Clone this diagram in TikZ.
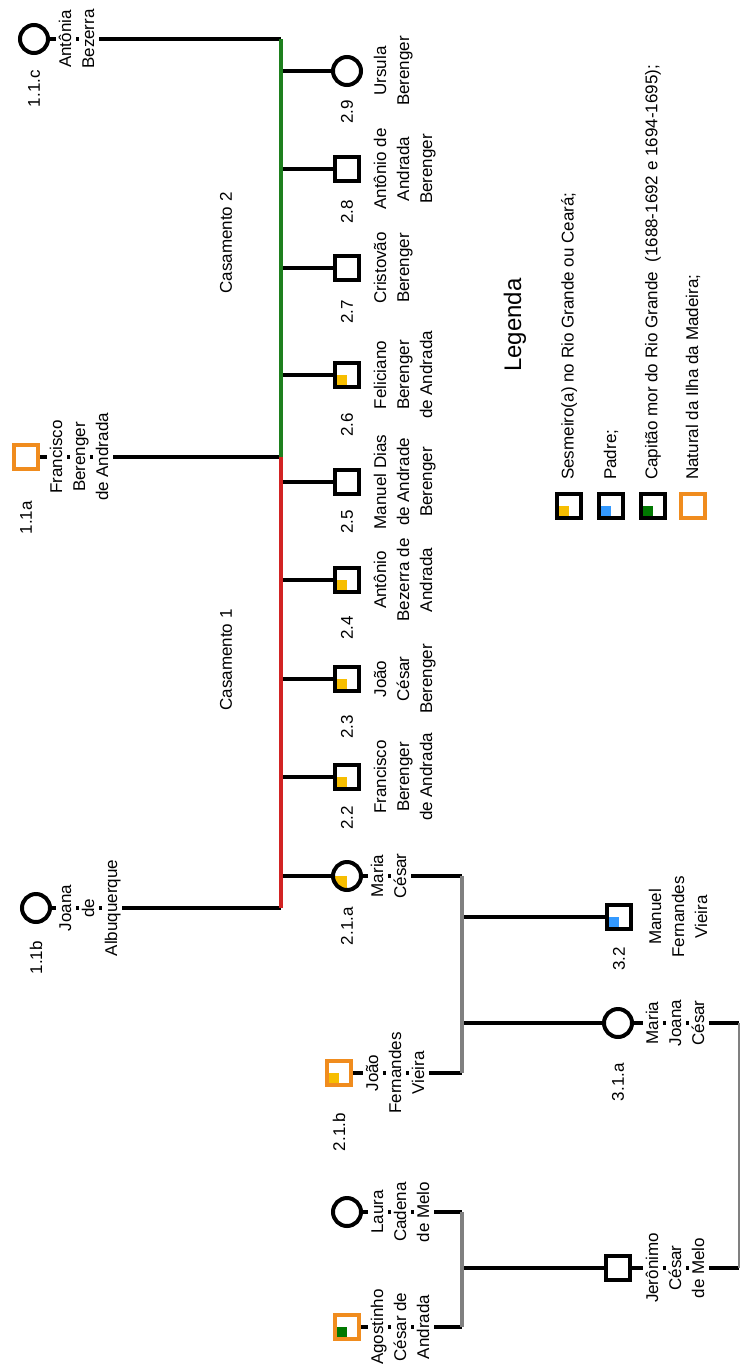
\documentclass[tikz,border=0pt]{standalone}
\usepackage{fontspec}
\setmainfont{Liberation Sans}
\usepackage{tikz}
\usetikzlibrary{positioning,backgrounds,calc}
\usepackage{xcolor}

\definecolor{verde}{RGB}{30,128,30}
\definecolor{vermelho}{RGB}{210,35,35}
\definecolor{cinza}{RGB}{128,128,128}
\definecolor{amarelo}{RGB}{247,190,0}
\definecolor{azul}{RGB}{51,153,255}
\definecolor{verdeC}{RGB}{0,120,0}
\definecolor{laranja}{RGB}{240,140,30}

\setlength{\fboxsep}{0pt}
\newcommand{\lin}[1]{\colorbox{white}{\rule[-4.5pt]{0pt}{19.5pt}#1}}
\newcommand{\fnome}{\fontsize{17}{23}\selectfont}

\tikzset{
  homem/.style={draw,line width=4pt,minimum size=24pt,inner sep=0pt,outer sep=0pt,fill=white},
  mulher/.style={draw,circle,line width=4pt,minimum size=28pt,inner sep=0pt,outer sep=0pt,fill=white},
  madeira/.style={draw=laranja},
  quarto/.style={path picture={\fill[#1] (path picture bounding box.south west) rectangle (path picture bounding box.center);}},
  sesmeiro/.style={quarto=amarelo},
  padre/.style={quarto=azul},
  capitao/.style={quarto=verdeC},
  nome/.style={rotate=90,align=center,inner sep=0pt,font=\fnome},
  ident/.style={rotate=90,inner sep=0pt,font=\fnome},
  liga/.style={line width=4.5pt},
}

\begin{document}
\begin{tikzpicture}[x=1pt,y=-1pt]
\useasboundingbox (0,0) rectangle (741,1371);

% geracao 1
\node (p11c) [mulher] at (34,39) {};
\node (p11a) [homem,madeira] at (26,457) {};
\node (p11b) [mulher] at (36,908) {};
\node (n11c) [nome,right=8pt of p11c,anchor=north] {\lin{Antônia}\\\lin{Bezerra}};
\node (n11a) [nome,right=9pt of p11a,anchor=north] {\lin{Francisco}\\\lin{Berenger}\\\lin{de Andrada}};
\node (n11b) [nome,right=6pt of p11b,anchor=north] {\lin{Joana}\\\lin{de}\\\lin{Albuquerque}};
\node (i11c) [ident,below=17pt of p11c,anchor=east] {1.1.c};
\node (i11a) [ident,below=39pt of p11a,anchor=east,xshift=7pt] {1.1a};
\node (i11b) [ident,below=16pt of p11b,anchor=east,xshift=-3pt] {1.1b};
\node (cas2) [ident] at (226,243) {Casamento 2};
\node (cas1) [ident] at (226,660) {Casamento 1};

% geracao 2
\node (p29) [mulher] at (347,71) {};
\node (p28) [homem] at (347,169) {};
\node (p27) [homem] at (347,268) {};
\node (p26) [homem,sesmeiro] at (347,375) {};
\node (p25) [homem] at (347,482) {};
\node (p24) [homem,sesmeiro] at (347,580) {};
\node (p23) [homem,sesmeiro] at (347,679) {};
\node (p22) [homem,sesmeiro] at (347,777) {};
\node (p21a) [mulher,sesmeiro] at (347,876) {};
\node (p21b) [homem,madeira,sesmeiro] at (339,1073) {};
\node (n29) [nome,right=10pt of p29,anchor=north] {\lin{Ursula}\\\lin{Berenger}};
\node (n28) [nome,right=12pt of p28,anchor=north] {\lin{Antônio de}\\\lin{Andrada}\\\lin{Berenger}};
\node (n27) [nome,right=12pt of p27,anchor=north] {\lin{Cristovão}\\\lin{Berenger}};
\node (n26) [nome,right=12pt of p26,anchor=north] {\lin{Feliciano}\\\lin{Berenger}\\\lin{de Andrada}};
\node (n25) [nome,right=12pt of p25,anchor=north] {\lin{Manuel Dias}\\\lin{de Andrade}\\\lin{Berenger}};
\node (n24) [nome,right=12pt of p24,anchor=north] {\lin{Antônio}\\\lin{Bezerra de}\\\lin{Andrada}};
\node (n23) [nome,right=12pt of p23,anchor=north] {\lin{João}\\\lin{César}\\\lin{Berenger}};
\node (n22) [nome,right=12pt of p22,anchor=north] {\lin{Francisco}\\\lin{Berenger}\\\lin{de Andrada}};
\node (n21a) [nome,right=7pt of p21a,anchor=north] {\lin{Maria}\\\lin{César}};
\node (n21b) [nome,right=12pt of p21b,anchor=north] {\lin{João}\\\lin{Fernandes}\\\lin{Vieira}};
\node (i29) [ident,below=15pt of p29,anchor=east] {2.9};
\node (i28) [ident,below=19pt of p28,anchor=east] {2.8};
\node (i27) [ident,below=20pt of p27,anchor=east] {2.7};
\node (i26) [ident,below=26pt of p26,anchor=east] {2.6};
\node (i25) [ident,below=16pt of p25,anchor=east] {2.5};
\node (i24) [ident,below=24pt of p24,anchor=east] {2.4};
\node (i23) [ident,below=24pt of p23,anchor=east] {2.3};
\node (i22) [ident,below=17pt of p22,anchor=east] {2.2};
\node (i21a) [ident,below=17pt of p21a,anchor=east] {2.1.a};
\node (i21b) [ident,below=28pt of p21b,anchor=east] {2.1.b};

% geracao 3
\node (p32) [homem,padre] at (619,917) {};
\node (p31a) [mulher] at (618,1023) {};
\node (laura) [mulher] at (347,1212) {};
\node (agost) [homem,madeira,capitao] at (347,1327) {};
\node (jeron) [homem] at (618,1268) {};
\node (n32) [nome,right=15pt of p32,anchor=north] {\lin{Manuel}\\\lin{Fernandes}\\\lin{Vieira}};
\node (n31a) [nome,right=11pt of p31a,anchor=north] {\lin{Maria}\\\lin{Joana}\\\lin{César}};
\node (nlaura) [nome,right=7pt of laura,anchor=north] {\lin{Laura}\\\lin{Cadena}\\\lin{de Melo}};
\node (nagost) [nome,right=9pt of agost,anchor=north] {\lin{Agostinho}\\\lin{César de}\\\lin{Andrada}};
\node (njeron) [nome,right=13pt of jeron,anchor=north] {\lin{Jerônimo}\\\lin{César}\\\lin{de Melo}};
\node (i32) [ident,below=18pt of p32,anchor=east] {3.2};
\node (i31a) [ident,below=26pt of p31a,anchor=east] {3.1.a};

% legenda
\node (titulo) [rotate=90,font=\fontsize{24}{28}\selectfont] at (515,325) {Legenda};
\node (leg1) [homem,sesmeiro] at (569,506) {};
\node (leg2) [homem,padre,right=18pt of leg1] {};
\node (leg3) [homem,capitao,right=18pt of leg2] {};
\node (leg4) [homem,madeira,right=16pt of leg3] {};
\node (lt1) [ident,above=14pt of leg1,anchor=west] {Sesmeiro(a) no Rio Grande ou Ceará;};
\node (lt2) [ident,above=14pt of leg2,anchor=west] {Padre;};
\node (lt3) [ident,above=14pt of leg3,anchor=west] {Capitão mor do Rio Grande\ \ (1688-1692 e 1694-1695);};
\node (lt4) [ident,above=14pt of leg4,anchor=west] {Natural da Ilha da Madeira;};

% ligacoes
\begin{scope}[on background layer]
\coordinate (e1) at (281,0);
\coordinate (e2) at (462,0);
\coordinate (e4) at (739,0);
\draw[liga] (p11c) -- (p11c -| e1);
\draw[liga] (p11a) -- (p11a -| e1);
\draw[liga] (p11b) -- (p11b -| e1);
\foreach \f in {p29,p28,p27,p26,p25,p24,p23,p22,p21a}
  \draw[liga] (\f -| e1) -- (\f);
\draw[liga] (p21a) -- (p21a -| e2);
\draw[liga] (p21b) -- (p21b -| e2);
\draw[liga] (p32 -| e2) -- (p32);
\draw[liga] (p31a -| e2) -- (p31a);
\draw[liga] (laura) -- (laura -| e2);
\draw[liga] (agost) -- (agost -| e2);
\draw[liga] (jeron -| e2) -- (jeron);
\draw[liga] (p31a) -- (p31a -| e4);
\draw[liga] (jeron) -- (jeron -| e4);
\draw[liga,verde] (p11c -| e1) -- (p11a -| e1);
\draw[liga,vermelho] (p11a -| e1) -- (p11b -| e1);
\draw[liga,cinza] (p21a -| e2) -- (p21b -| e2);
\draw[liga,cinza] (laura -| e2) -- (agost -| e2);
\draw[cinza,line width=1.5pt] (p31a -| e4) -- (jeron -| e4);
\end{scope}
\end{tikzpicture}
\end{document}
